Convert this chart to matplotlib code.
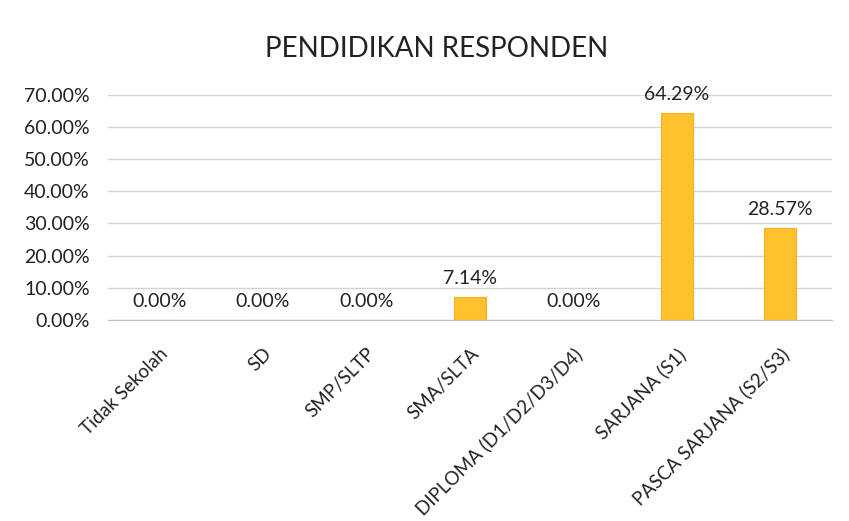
import matplotlib.pyplot as plt
from matplotlib.ticker import PercentFormatter

categories = ['Tidak Sekolah', 'SD', 'SMP/SLTP', 'SMA/SLTA',
              'DIPLOMA (D1/D2/D3/D4)', 'SARJANA (S1)', 'PASCA SARJANA (S2/S3)']
values = [0.0, 0.0, 0.0, 7.14, 0.0, 64.29, 28.57]
yticks = [0, 10, 20, 30, 40, 50, 60, 70]

plt.rcParams['font.family'] = ['Lato', 'DejaVu Sans']

fig = plt.figure(figsize=(8.49, 5.21), dpi=100)
ax = fig.add_axes([0.127, 0.386, 0.853, 0.432])

x = range(len(categories))
bars = ax.bar(x, values, width=0.31, color='#FFC22E', edgecolor='#F5B01E', linewidth=0.8, zorder=3)

# label di atas batang
for xi, v in zip(x, values):
    ax.text(xi, v + 3.2, f'{v:.2f}%', ha='center', va='bottom', fontsize=14, color='#222222')

ax.set_ylim(0, 70)
ax.set_xlim(-0.5, len(categories) - 0.5)
ax.set_yticks(yticks)
ax.yaxis.set_major_formatter(PercentFormatter(decimals=2))
ax.set_xticks(list(x))
ax.set_xticklabels(categories, rotation=45, ha='right', rotation_mode='anchor')
ax.tick_params(axis='both', length=0, colors='#222222')
ax.tick_params(axis='y', labelsize=14, pad=13)
ax.tick_params(axis='x', labelsize=13.5, pad=18)

ax.grid(axis='y', color='#d4d4d4', linewidth=1, zorder=0)
for s in ['top', 'right', 'left']:
    ax.spines[s].set_visible(False)
ax.spines['bottom'].set_color('#bdbdbd')

fig.text(0.514, 0.905, 'PENDIDIKAN RESPONDEN', ha='center', va='center', fontsize=20, color='#222222')

plt.savefig('out.png', dpi=100)
